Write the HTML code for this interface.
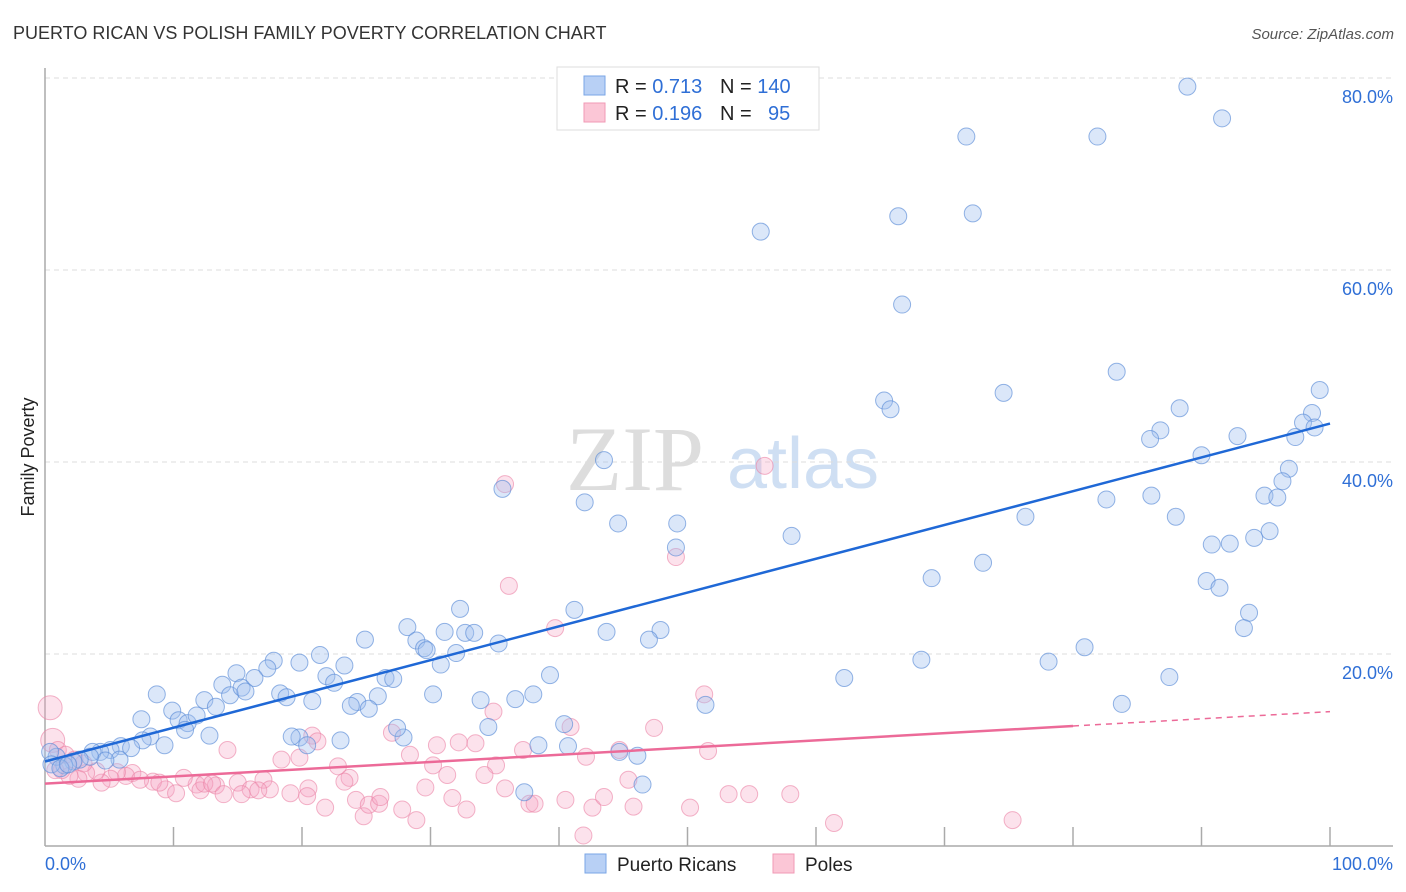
<!DOCTYPE html>
<html><head><meta charset="utf-8"><style>
body{margin:0;background:#fff;font-family:"Liberation Sans",sans-serif;}
svg{display:block}
</style></head><body>
<svg id="chart" width="1406" height="892">
<text x="13" y="39" font-size="18" fill="#333">PUERTO RICAN VS POLISH FAMILY POVERTY CORRELATION CHART</text>
<text x="1394" y="39" font-size="15" fill="#555" font-style="italic" text-anchor="end">Source: ZipAtlas.com</text>
<text x="34" y="457" font-size="18" fill="#222" text-anchor="middle" transform="rotate(-90 34 457)">Family Poverty</text>
<g><text x="635" y="490" font-size="92" fill="#ddd" font-family="Liberation Serif,serif" text-anchor="middle">ZIP</text><text x="803" y="488" font-size="72" fill="#cfdff3" text-anchor="middle">atlas</text></g>
<g id="grid"></g><g id="axes"></g><g id="pts"></g><g id="trends"></g>
<g>
<rect x="557" y="67" width="262" height="63" fill="#fff" stroke="#ddd"/>
<rect x="584" y="76" width="21" height="19" fill="#b8d0f5" stroke="#7aa6e6"/>
<rect x="584" y="103" width="21" height="19" fill="#fbc6d6" stroke="#f09ab5"/>
<text x="615" y="93" font-size="20" fill="#222">R = <tspan fill="#2f6fd6">0.713</tspan></text>
<text x="720" y="93" font-size="20" fill="#222">N = <tspan fill="#2f6fd6">140</tspan></text>
<text x="615" y="120" font-size="20" fill="#222">R = <tspan fill="#2f6fd6">0.196</tspan></text>
<text x="720" y="120" font-size="20" fill="#222">N = <tspan fill="#2f6fd6" x="768">95</tspan></text>
</g>
<g>
<rect x="585" y="854" width="21" height="19" fill="#b8d0f5" stroke="#7aa6e6"/>
<text x="617" y="871" font-size="19" fill="#222">Puerto Ricans</text>
<rect x="773" y="854" width="21" height="19" fill="#fbc6d6" stroke="#f09ab5"/>
<text x="805" y="871" font-size="19" fill="#222">Poles</text>
</g>
</svg>
<script>
const yTicks=[20,40,60,80];
const yTickLabels=["20.0%","40.0%","60.0%","80.0%"];
const xTickLabels=["0.0%","100.0%"];
const blueX=[88.9,91.6,71.7,81.9,66.4,72.2,55.7,66.7,83.4,74.6,65.3,65.8,88.3,99.2,98.6,97.9,98.8,97.3,86.8,86.0,92.8,90.0,96.8,96.3,94.9,95.9,86.1,82.6,88.0,76.3,94.1,95.3,90.8,92.2,73.0,69.0,90.4,91.4,93.7,93.3,80.9,78.1,68.2,62.2,87.5,83.8,43.5,35.6,42.0,44.6,49.2,49.1,58.1,32.3,41.2,28.2,31.1,32.7,33.4,35.3,43.7,47.9,47.0,28.9,29.5,29.7,32.0,30.8,24.9,21.4,23.3,19.8,17.8,17.3,14.9,16.3,21.9,22.5,26.5,27.1,39.3,30.2,24.3,25.9,25.2,23.8,18.3,18.8,20.8,33.9,38.0,36.6,51.4,40.4,34.5,27.9,27.4,19.8,19.2,20.4,23.0,38.4,40.7,44.7,46.1,46.5,37.3,8.7,9.9,10.4,11.1,11.8,12.4,13.3,13.8,14.4,15.3,15.6,7.5,10.9,12.8,8.2,7.6,9.3,5.9,6.7,5.1,4.3,3.7,5.8,4.7,3.5,2.7,2.2,1.5,0.9,0.4,0.5,1.2,1.8];
const blueY=[79.1,75.8,73.9,73.9,65.6,65.9,64.0,56.4,49.4,47.2,46.4,45.5,45.6,47.5,45.1,44.1,43.6,42.6,43.3,42.4,42.7,40.7,39.3,38.0,36.5,36.3,36.5,36.1,34.3,34.3,32.1,32.8,31.4,31.5,29.5,27.9,27.6,26.9,24.3,22.7,20.7,19.2,19.4,17.5,17.6,14.8,40.2,37.2,35.8,33.6,33.6,31.1,32.3,24.7,24.6,22.8,22.3,22.2,22.2,21.1,22.3,22.5,21.5,21.4,20.6,20.4,20.1,18.9,21.5,19.9,18.8,19.1,19.3,18.5,18.0,17.5,17.7,17.0,17.5,17.4,17.8,15.8,15.0,15.6,14.3,14.6,15.9,15.5,15.1,15.2,15.8,15.3,14.7,12.7,12.4,11.3,12.3,11.3,11.4,10.5,11.0,10.5,10.4,9.8,9.4,6.4,5.6,15.8,14.1,13.1,12.8,13.6,15.2,14.5,16.8,15.7,16.5,16.1,13.2,12.1,11.5,11.4,11.0,10.5,10.4,10.2,10.0,9.8,9.8,9.0,8.9,9.3,9.0,8.8,8.4,9.3,9.8,8.5,8.1,8.5];
const pinkX=[35.8,56.0,36.1,49.1,39.7,51.3,34.9,47.4,40.9,44.7,51.6,42.1,27.0,20.8,21.2,32.2,33.5,30.5,37.2,35.1,28.4,30.2,34.2,31.3,19.8,18.4,14.2,22.8,23.7,20.5,17.0,15.0,17.5,16.0,13.3,11.8,10.8,9.4,8.4,6.8,6.3,5.6,5.1,4.4,4.0,3.2,2.6,1.9,1.3,0.8,0.4,0.6,1.0,1.6,2.3,3.0,7.4,8.9,10.2,12.1,12.4,13.0,13.9,15.3,16.6,19.1,20.4,21.8,24.2,24.8,25.2,26.0,27.8,26.1,28.9,23.3,29.6,31.7,32.8,35.8,37.7,40.5,41.9,42.6,43.5,45.8,50.2,53.2,54.8,58.0,61.4,75.3,45.4,38.1];
const pinkY=[37.7,39.6,27.1,30.1,22.7,15.8,14.0,12.3,12.4,10.0,9.9,9.3,11.8,11.5,10.9,10.8,10.7,10.5,10.0,8.4,9.5,8.4,7.4,7.4,9.2,9.0,10.0,8.3,7.1,6.0,6.9,6.6,5.9,5.9,6.3,6.4,7.1,5.9,6.7,7.6,7.3,7.7,7.0,6.6,7.8,7.6,7.0,7.3,7.9,7.9,14.4,11.0,10.0,9.5,9.0,8.6,6.9,6.6,5.5,5.8,6.5,6.5,5.4,5.4,5.8,5.5,5.2,4.0,4.8,3.1,4.3,4.4,3.8,5.1,2.7,6.7,6.1,5.0,3.8,6.0,4.4,4.8,1.1,4.0,5.1,4.1,4.0,5.4,5.4,5.4,2.4,2.7,6.9,4.4];
const blueTrend=[8.8,44.0];
const pinkTrend=[6.5,14.0];
const pinkSolidEnd=80;

const NS="http://www.w3.org/2000/svg";
const X0=45,X1=1330,Y0=846,Y80=78;
const xs=v=>X0+(X1-X0)*v/100;
const ys=v=>Y0-(Y0-Y80)*v/80;
function mk(tag,attrs,parent){const e=document.createElementNS(NS,tag);for(const k in attrs)e.setAttribute(k,attrs[k]);parent.appendChild(e);return e;}
const grid=document.getElementById('grid'),axes=document.getElementById('axes'),pts=document.getElementById('pts'),tr=document.getElementById('trends');
yTicks.forEach((t,i)=>{
  const l=mk('line',{x1:X0,x2:1393,y1:ys(t),y2:ys(t),stroke:'#ddd','stroke-dasharray':'5,4'},grid);
  
  
  const tx=mk('text',{x:1393,y:ys(t)+25,'font-size':18,fill:'#2f6fd6','text-anchor':'end'},grid);
  tx.textContent=yTickLabels[i];
  
  
});
const ya=mk('line',{x1:X0,x2:X0,y1:68,y2:Y0,stroke:'#aaa','stroke-width':1.5},axes);


const xa=mk('line',{x1:X0,x2:1393,y1:Y0,y2:Y0,stroke:'#aaa','stroke-width':1.5},axes);


for(let i=1;i<=10;i++){
  const t=mk('line',{x1:xs(i*10),x2:xs(i*10),y1:827,y2:Y0,stroke:'#aaa','stroke-width':1.5},axes);
  
  
}
const xl0=mk('text',{x:45,y:870,'font-size':18,fill:'#2f6fd6'},axes);xl0.textContent=xTickLabels[0];


const xl1=mk('text',{x:1393,y:870,'font-size':18,fill:'#2f6fd6','text-anchor':'end'},axes);xl1.textContent=xTickLabels[1];



function series(X,Y,fill,stroke,name,big){
  X.forEach((x,i)=>{
    const r=big.includes(i)?12:8.5;
    const c=mk('circle',{cx:xs(x),cy:ys(Y[i]),r:r,fill:fill,stroke:stroke,'stroke-width':1},pts);
    
    
  });
}
series(pinkX,pinkY,'rgba(245,165,195,0.32)','rgba(235,130,165,0.6)','poles',[50,51]);
series(blueX,blueY,'rgba(160,192,240,0.38)','rgba(90,140,215,0.65)','puerto-ricans',[143]);

const bl=mk('line',{x1:xs(0),y1:ys(blueTrend[0]),x2:xs(100),y2:ys(blueTrend[1]),stroke:'#1f68d6','stroke-width':2.5},tr);


const pm=pinkTrend[0]+(pinkTrend[1]-pinkTrend[0])*pinkSolidEnd/100;
const pl=mk('line',{x1:xs(0),y1:ys(pinkTrend[0]),x2:xs(pinkSolidEnd),y2:ys(pm),stroke:'#ec6a98','stroke-width':2.5},tr);


const pd=mk('line',{x1:xs(pinkSolidEnd),y1:ys(pm),x2:xs(100),y2:ys(pinkTrend[1]),stroke:'#ec6a98','stroke-width':1.5,'stroke-dasharray':'6,5'},tr);


</script>
</body></html>
